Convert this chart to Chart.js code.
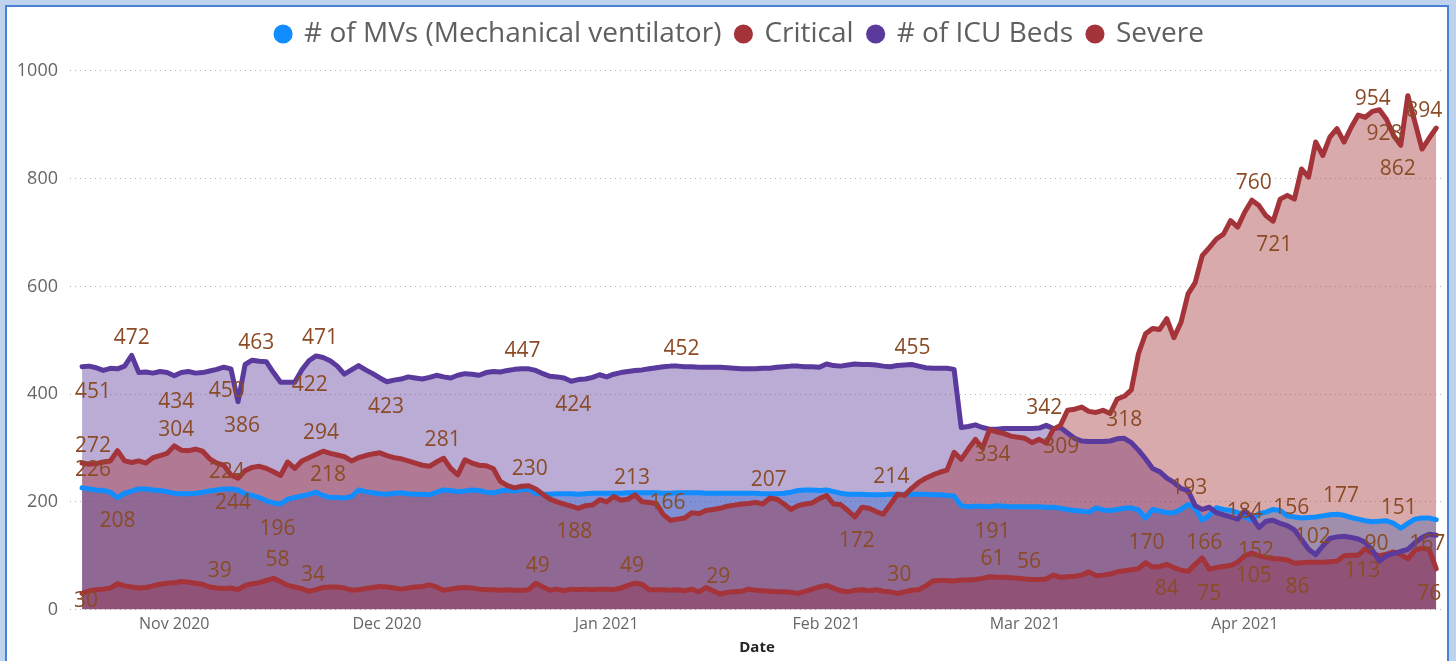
<!DOCTYPE html>
<html>
<head>
<meta charset="utf-8">
<script src="https://cdn.jsdelivr.net/npm/chart.js@4.4.1/dist/chart.umd.min.js"></script>
<style>
  html, body { margin:0; padding:0; background:#BED4EE; width:1456px; height:661px; overflow:hidden; }
  #frame { position:absolute; left:5px; top:5px; width:1444px; height:700px; box-sizing:border-box;
           border:2px solid #4A7FD4; background:#ffffff; }
  #c { position:absolute; left:0; top:0; z-index:1; }
</style>
</head>
<body>
<div id="frame"></div>
<canvas id="c" width="1456" height="661"></canvas>
<script>
// ---------- DATA (daily, starting 2020-10-19) ----------
const startDate = '2020-10-19';
const tickDates  = ['2020-11-01','2020-12-01','2021-01-01','2021-02-01','2021-03-01','2021-04-01'];
const tickLabels = ['Nov 2020','Dec 2020','Jan 2021','Feb 2021','Mar 2021','Apr 2021'];
const yTicks = [0, 200, 400, 600, 800, 1000];

const seriesNames = ['# of MVs (Mechanical ventilator)', 'Critical', '# of ICU Beds', 'Severe'];

const mvValues = [
  226,224,222,221,218,208,216,220,224,224,
  222,221,219,216,215,215,216,218,220,222,
  224,224,222,215,212,208,202,198,196,205,
  208,211,214,218,212,208,208,207,210,222,
  219,217,215,214,216,217,215,214,214,213,
  218,222,221,219,220,222,221,218,217,220,
  222,220,223,224,216,214,214,215,215,215,
  214,215,216,216,216,216,216,217,217,217,
  217,217,216,216,217,217,217,217,216,216,
  216,216,216,216,216,216,215,215,215,216,
  218,221,222,222,221,222,219,216,214,214,
  214,213,213,213,214,214,214,214,214,214,
  213,213,212,211,193,191,192,192,191,193,
  192,191,191,191,191,191,190,190,188,186,
  184,183,181,189,185,184,186,188,189,185,
  170,186,183,180,180,186,195,188,166,175,
  189,186,184,180,172,166,178,181,186,184,
  174,172,170,171,172,174,176,177,175,171,
  168,165,163,164,165,160,151,160,168,170,
  170,167
];

const criticalValues = [
  30,35,37,38,40,48,44,42,40,41,
  44,47,49,50,52,51,49,47,42,40,
  39,40,37,45,48,50,54,58,52,45,
  42,39,34,37,41,42,42,40,36,37,
  39,41,43,42,40,38,40,42,43,46,
  42,36,38,40,41,40,38,37,37,36,
  37,36,36,37,49,42,36,38,35,38,
  37,38,37,38,38,37,40,45,49,47,
  37,37,37,36,37,35,38,33,41,35,
  29,32,33,34,38,36,35,34,33,33,
  32,30,34,38,42,45,40,35,33,36,
  37,35,37,34,33,30,33,36,37,44,
  53,54,54,53,55,55,56,58,61,60,
  60,59,58,57,56,56,57,64,60,61,
  62,64,70,63,64,66,70,72,74,76,
  87,79,80,84,78,73,71,84,96,75,
  78,80,82,88,100,105,100,97,95,94,
  92,86,87,88,88,88,89,90,100,101,
  101,113,105,100,103,107,102,94,110,114,
  112,76
];

const icuValues = [
  451,452,449,444,448,447,452,472,440,441,
  439,442,440,434,440,442,439,440,443,446,
  450,447,386,455,463,461,460,440,422,422,
  422,445,462,471,468,462,452,437,445,453,
  445,438,430,423,426,428,432,430,428,431,
  435,432,430,435,438,437,435,440,442,441,
  444,446,447,447,444,438,433,432,430,424,
  427,428,431,436,432,437,440,442,444,445,
  447,449,451,452,452,451,451,450,450,450,
  450,449,448,447,447,447,448,448,450,451,
  452,452,451,451,450,456,453,452,454,456,
  455,455,454,452,451,453,454,455,452,449,
  448,448,448,446,338,340,343,338,335,335,
  336,336,336,336,336,337,342,336,338,328,
  318,313,312,312,312,313,317,318,310,296,
  280,262,256,244,236,225,221,193,186,190,
  180,176,172,168,184,172,152,164,166,160,
  156,148,130,112,102,118,132,135,136,134,
  131,125,110,90,100,104,108,112,124,134,
  140,138
];

const severeValues = [
  272,270,271,274,276,295,276,273,276,272,
  282,286,290,304,296,295,298,294,280,272,
  268,250,244,258,264,266,262,256,249,274,
  262,276,282,288,294,290,287,284,276,282,
  286,289,291,286,282,280,276,272,268,266,
  274,281,262,250,278,272,268,267,262,238,
  230,226,229,230,224,214,205,200,196,192,
  188,193,194,204,200,210,203,205,213,200,
  199,197,176,166,168,170,180,178,184,186,
  188,192,194,196,197,199,196,207,205,196,
  186,193,196,198,206,212,196,195,184,172,
  190,188,182,177,195,214,212,225,236,244,
  250,255,259,292,279,298,316,300,334,330,
  327,322,320,318,310,316,309,335,342,370,
  372,376,368,366,370,364,391,396,408,475,
  512,522,520,540,505,533,586,607,657,672,
  688,697,722,710,738,760,750,731,721,762,
  769,762,818,803,868,843,877,893,868,895,
  918,914,925,928,910,880,862,954,905,855,
  875,894
];

// Data labels shown on the chart: [series, day index, dx, dy]
const labelSpecs = [
  ['# of ICU Beds',0,11,25],['# of ICU Beds',7,0,-17],['# of ICU Beds',13,2,26],['# of ICU Beds',20,3,24],
  ['# of ICU Beds',22,4,24],['# of ICU Beds',24,4,-17],['# of ICU Beds',30,15,3],['# of ICU Beds',33,4,-18],
  ['# of ICU Beds',43,-1,25],['# of ICU Beds',62,1,-18],['# of ICU Beds',69,2,24],['# of ICU Beds',84,4,-17],
  ['# of ICU Beds',117,1,-16],['# of ICU Beds',136,-2,-17],['# of ICU Beds',147,0,-18],['# of ICU Beds',157,-6,-18],
  ['# of ICU Beds',164,0,2],['# of ICU Beds',166,-3,23],['# of ICU Beds',170,4,-18],['# of ICU Beds',174,-3,-18],
  ['# of ICU Beds',183,-3,-17],
  ['# of MVs (Mechanical ventilator)',0,11,-18],['# of MVs (Mechanical ventilator)',5,0,23],
  ['# of MVs (Mechanical ventilator)',20,3,-17],['# of MVs (Mechanical ventilator)',28,-3,25],
  ['# of MVs (Mechanical ventilator)',33,12,-17],['# of MVs (Mechanical ventilator)',128,3,25],
  ['# of MVs (Mechanical ventilator)',150,1,25],['# of MVs (Mechanical ventilator)',158,2,23],
  ['# of MVs (Mechanical ventilator)',177,4,-18],['# of MVs (Mechanical ventilator)',186,-2,-20],
  ['# of MVs (Mechanical ventilator)',191,-9,24],
  ['Critical',0,4,8],['Critical',20,-4,-18],['Critical',27,4,-18],['Critical',32,4,-16],
  ['Critical',64,2,-17],['Critical',78,-3,-17],['Critical',90,-2,-17],['Critical',115,2,-18],
  ['Critical',128,3,-18],['Critical',134,-3,-17],['Critical',153,0,25],['Critical',159,0,25],
  ['Critical',165,2,23],['Critical',171,3,24],['Critical',181,-3,22],['Critical',191,-7,25],
  ['Severe',0,11,-17],['Severe',13,2,-16],['Severe',22,-5,25],['Severe',34,-2,-18],
  ['Severe',51,-1,-18],['Severe',63,1,-17],['Severe',70,-4,24],['Severe',78,-3,-17],
  ['Severe',83,-3,-17],['Severe',97,-1,-18],['Severe',109,2,24],['Severe',115,-6,-17],
  ['Severe',128,3,25],['Severe',136,15,4],['Severe',165,2,-17],['Severe',168,1,24],
  ['Severe',183,5,24],['Severe',186,-3,24],['Severe',187,-35,3],['Severe',191,-12,-17]
];

// ---------- helpers ----------
const DAY = 86400000;
const t0 = Date.parse(startDate + 'T00:00:00Z');
const tickDays = tickDates.map(d => Math.round((Date.parse(d + 'T00:00:00Z') - t0) / DAY));
const toPoints = arr => arr.map((v, i) => ({ x: i, y: v }));

const FONT = '"Segoe UI", "Open Sans", "Noto Sans", sans-serif';
const RED = '#A4343A', PURPLE = '#5A3A9C', BLUE = '#118DFF';
const fillOf = (r,g,b) => `rgba(${r},${g},${b},0.42)`;

const valueLabelPlugin = {
  id: 'valueLabels',
  afterDatasetsDraw(chart) {
    const ctx = chart.ctx;
    ctx.save();
    ctx.font = '21px ' + FONT;
    ctx.fillStyle = '#8A4B26';
    ctx.textAlign = 'center';
    ctx.textBaseline = 'middle';
    labelSpecs.forEach(([name, i, dx, dy]) => {
      const di = chart.data.datasets.findIndex(d => d.label === name);
      const el = chart.getDatasetMeta(di).data[i];
      const val = chart.data.datasets[di].data[i].y;
      ctx.fillText(String(val), el.x + dx, el.y + dy);
    });
    ctx.restore();
  }
};

// nudge the legend block so it is centred like the original visual
const legendShift = {
  id: 'legendShift',
  afterLayout(chart) {
    if (chart.legend) { chart.legend.left += 18; chart.legend.right += 18; }
  }
};

function ds(label, values, line, fill) {
  return {
    label, data: toPoints(values),
    borderColor: line, backgroundColor: fill,
    pointBackgroundColor: line, pointBorderColor: line,
    borderWidth: 5, pointRadius: 0, pointHoverRadius: 0,
    fill: 'origin', tension: 0,
    borderJoinStyle: 'round', borderCapStyle: 'round'
  };
}

// dataset order: first = drawn on top; legend reversed to show MV, Critical, ICU, Severe
const chart = new Chart(document.getElementById('c'), {
  type: 'line',
  data: {
    datasets: [
      ds(seriesNames[3], severeValues, RED, fillOf(164,52,58)),
      ds(seriesNames[2], icuValues, PURPLE, fillOf(90,58,156)),
      ds(seriesNames[1], criticalValues, RED, fillOf(164,52,58)),
      ds(seriesNames[0], mvValues, BLUE, fillOf(17,141,255))
    ]
  },
  options: {
    responsive: false,
    animation: false,
    devicePixelRatio: 1,
    layout: { padding: { top: 5, left: 0, right: 12, bottom: 0 } },
    plugins: {
      filler: { drawTime: 'beforeDatasetsDraw' },
      tooltip: { enabled: false },
      legend: {
        display: true,
        position: 'top',
        reverse: true,
        labels: {
          usePointStyle: true,
          pointStyle: 'circle',
          boxWidth: 14,
          boxHeight: 10,
          padding: 15,
          color: '#5F5F5F',
          font: { family: FONT, size: 28 }
        }
      }
    },
    scales: {
      x: {
        type: 'linear',
        min: -1.7,
        max: 192.1,
        afterBuildTicks: s => { s.ticks = tickDays.map(v => ({ value: v })); },
        ticks: {
          autoSkip: false, maxRotation: 0, padding: 5.1,
          color: '#666666', font: { family: FONT, size: 16 },
          callback: v => { const k = tickDays.indexOf(v); return k >= 0 ? tickLabels[k] : ''; }
        },
        grid: { display: false, drawTicks: false },
        border: { display: false },
        title: {
          display: true, text: 'Date', color: '#252423',
          font: { family: FONT, size: 15, weight: 'bold' },
          padding: { top: 0, bottom: 4 }
        }
      },
      y: {
        min: 0,
        max: 1024,
        afterBuildTicks: s => { s.ticks = yTicks.map(v => ({ value: v })); },
        afterFit: s => { s.width = 70; },
        ticks: {
          padding: 12, color: '#666666', font: { family: FONT, size: 18 },
          callback: v => String(v)
        },
        grid: { color: '#B4B4B4', lineWidth: 1, drawTicks: false },
        border: { display: false, dash: [1, 4] }
      }
    }
  },
  plugins: [valueLabelPlugin, legendShift]
});
</script>
</body>
</html>
